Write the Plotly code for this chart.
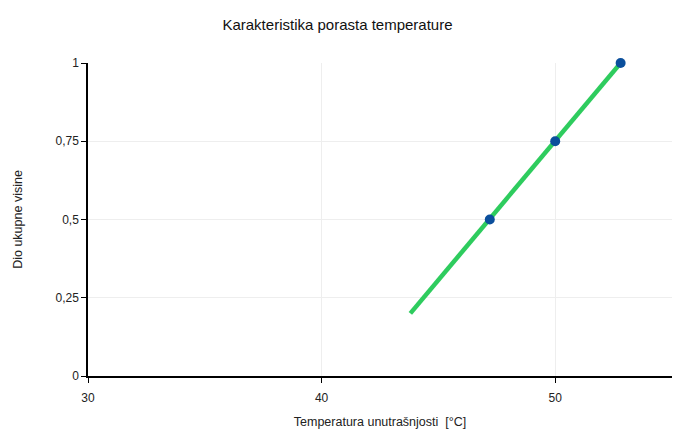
import plotly.graph_objects as go

# Data
line_x = [43.8, 52.8]
line_y = [0.2, 1.0]
point_x = [47.2, 50.0, 52.8]
point_y = [0.5, 0.75, 1.0]

x_ticks = [30, 40, 50]
y_ticks = [0, 0.25, 0.5, 0.75, 1]
y_tick_labels = ["0", "0,25", "0,5", "0,75", "1"]

font_family = "Liberation Sans, Arial, sans-serif"

fig = go.Figure()
fig.add_trace(go.Scatter(x=line_x, y=line_y, mode="lines", cliponaxis=False,
                         line=dict(color="#2ecc5e", width=4.5), showlegend=False))
fig.add_trace(go.Scatter(x=point_x, y=point_y, mode="markers", cliponaxis=False,
                         marker=dict(color="#0b4f9c", size=10), showlegend=False))

fig.update_layout(
    width=675, height=432,
    margin=dict(l=88, r=3, t=63, b=56),
    paper_bgcolor="white", plot_bgcolor="white",
    font=dict(family=font_family, size=12, color="#222"),
    title=dict(text="Karakteristika porasta temperature", x=0.5, xanchor="center",
               y=0.942, yanchor="middle", font=dict(size=15, color="#111")),
)
fig.update_xaxes(range=[30, 55], tickvals=x_ticks, showgrid=True, gridcolor="#eeeeee",
                 showline=True, linecolor="black", linewidth=1.5, ticks="outside",
                 ticklen=5, tickcolor="black", zeroline=False, ticklabelstandoff=5,
                 automargin=False,
                 title=dict(text="Temperatura unutrašnjosti  [°C]", font=dict(size=12.5), standoff=13))
fig.update_yaxes(range=[0, 1], tickvals=y_ticks, ticktext=y_tick_labels, showgrid=True,
                 gridcolor="#eeeeee", showline=True, linecolor="black", linewidth=1.5,
                 ticks="outside", ticklen=5, tickcolor="black", zeroline=False,
                 automargin=False,
                 title=dict(text="Dio ukupne visine", font=dict(size=12.5), standoff=30))

fig.write_html("out.html", config={"displayModeBar": False},
               post_script="document.body.style.margin='0';document.body.style.overflow='hidden';")
